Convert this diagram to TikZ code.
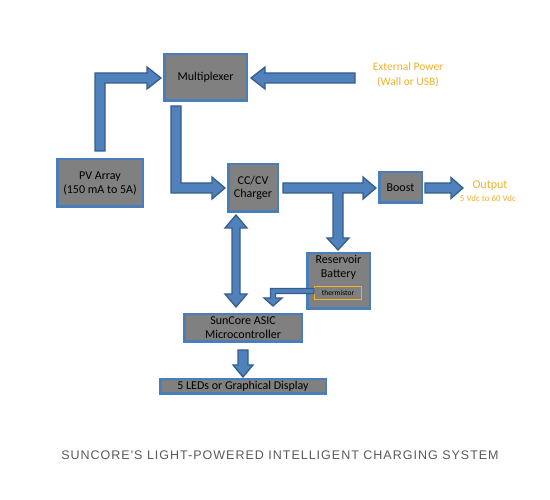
\documentclass[tikz,border=0pt]{standalone}
\usepackage{fontspec}
\setmainfont{Carlito}
\newfontfamily\capfont[LetterSpace=8]{Liberation Sans}
\usetikzlibrary{calc}
\definecolor{boxgray}{HTML}{808080}
\definecolor{boxblue}{HTML}{4A7EBB}
\definecolor{arrfill}{HTML}{4F81BD}
\definecolor{arrline}{HTML}{385D8A}
\definecolor{orangetxt}{HTML}{F2B12B}
\definecolor{captxt}{HTML}{5A5A5A}
\tikzset{
 blk/.style={draw=boxblue, line width=2.5pt, fill=boxgray, inner sep=0pt, outer sep=0pt, align=center, font=\fontsize{12}{14}\selectfont},
 barrow/.style={draw=arrline, fill=arrfill, line width=1.3pt, line join=miter},
 otext/.style={text=orangetxt, align=center, inner sep=0pt},
}
\newcommand\blockarrow[5]{%
 \coordinate (bah) at ($(#2)!#5!(#1)$);
 \draw[barrow] ($(#1)!#3!90:(#2)$) -- ($(bah)!#3!90:(#2)$) -- ($(bah)!#4!90:(#2)$) -- (#2) -- ($(bah)!#4!-90:(#2)$) -- ($(bah)!#3!-90:(#2)$) -- ($(#1)!#3!-90:(#2)$) -- cycle;}
\newcommand\dblockarrow[5]{%
 \coordinate (bahA) at ($(#1)!#5!(#2)$);
 \coordinate (bahB) at ($(#2)!#5!(#1)$);
 \draw[barrow] (#1) -- ($(bahA)!#4!90:(#2)$) -- ($(bahA)!#3!90:(#2)$) -- ($(bahB)!#3!90:(#2)$) -- ($(bahB)!#4!90:(#2)$) -- (#2) -- ($(bahB)!#4!-90:(#2)$) -- ($(bahB)!#3!-90:(#2)$) -- ($(bahA)!#3!-90:(#2)$) -- ($(bahA)!#4!-90:(#2)$) -- cycle;}
\begin{document}
\begin{tikzpicture}[x=1pt,y=-1pt]
\useasboundingbox[fill=white] (0,0) rectangle (550,500);
% boxes
\node[blk, minimum width=82.5pt, minimum height=46.5pt] (mux) at (205.5,77.5) {Multiplexer};
\node[blk, minimum width=85.5pt, minimum height=47.5pt] (pv) at (100,183) {PV Array\\(150 mA to 5A)};
\node[blk, minimum width=49.5pt, minimum height=47.5pt, font=\fontsize{12}{13}\selectfont] (chg) at (253,188) {CC/CV\\Charger};
\node[blk, minimum width=42.5pt, minimum height=30.5pt] (boost) at (400.5,187.5) {Boost};
\node[blk, minimum width=62.5pt, minimum height=55.5pt] (bat) at (338.5,281) {};
\node[align=center, inner sep=0pt, font=\fontsize{12}{14}\selectfont] (battxt) at (338.5,267) {Reservoir\\Battery};
\node[draw=orangetxt, line width=1pt, fill=boxgray, minimum width=47pt, minimum height=13pt, inner sep=0pt, font=\fontsize{7.5}{9}\selectfont] (therm) at (338,293) {thermistor};
\node[blk, minimum width=117.5pt, minimum height=27.5pt] (asic) at (243,328) {SunCore ASIC\\Microcontroller};
\node[blk, minimum width=165.5pt, minimum height=14.5pt] (leds) at (243,386.5) {5 LEDs or Graphical Display};
% texts
\node[otext, font=\fontsize{11.5}{15}\selectfont] (ext) at (408,74.5) {External Power\\(Wall or USB)};
\node[otext, font=\fontsize{12}{13}\selectfont] (out) at (490,186) {Output};
\node[otext, font=\fontsize{9}{10}\selectfont] (outv) at (488,198.5) {5 Vdc to 60 Vdc};
\node[font=\capfont\fontsize{12.5}{14}\selectfont, text=captxt, inner sep=0pt] (cap) at (280,455) {SUNCORE'S LIGHT-POWERED INTELLIGENT CHARGING SYSTEM};
% arrows
% PV -> Multiplexer
\draw[barrow] (95,151) -- (95,73) -- (147,73) -- (147,67) -- (161,78) -- (147,89) -- (147,83) -- (105,83) -- (105,151) -- cycle;
% External -> Multiplexer
\coordinate (extS) at (355,78);
\coordinate (muxT) at (251,78);
\blockarrow{extS}{muxT}{5pt}{11pt}{14pt}
% Multiplexer -> Charger
\draw[barrow] (171,106) -- (171,193) -- (212,193) -- (212,199) -- (225,188) -- (212,177) -- (212,183) -- (181,183) -- (181,106) -- cycle;
% Charger -> Boost with branch to Battery
\draw[barrow] (283,183) -- (363,183) -- (363,177) -- (376,188) -- (363,199) -- (363,193) -- (343,193) -- (343,238) -- (349,238) -- (338,250) -- (327,238) -- (333,238) -- (333,193) -- (283,193) -- cycle;
% Boost -> Output
\coordinate (boostS) at (425,188);
\coordinate (outT) at (463,188);
\blockarrow{boostS}{outT}{5pt}{10.5pt}{12pt}
% Charger <-> ASIC
\coordinate (chgT) at (236,215);
\coordinate (asicT) at (236,307);
\dblockarrow{chgT}{asicT}{4pt}{11pt}{13pt}
% thermistor -> ASIC
\draw[barrow] (314,288.5) -- (270.5,288.5) -- (270.5,298) -- (264,298) -- (273,306) -- (282,298) -- (275.5,298) -- (275.5,293.5) -- (314,293.5) -- cycle;
% ASIC -> LEDs
\coordinate (asicS) at (243,350);
\coordinate (ledsT) at (243,377);
\blockarrow{asicS}{ledsT}{5pt}{10pt}{12pt}
\end{tikzpicture}
\end{document}
